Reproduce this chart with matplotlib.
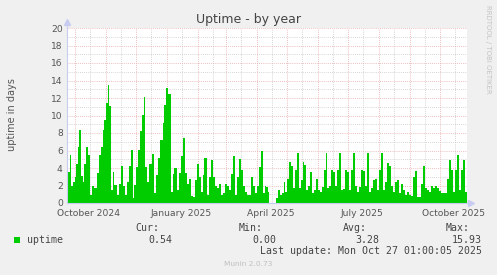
import numpy as np
import matplotlib
matplotlib.use("Agg")
import matplotlib.pyplot as plt
import matplotlib.dates as mdates
from matplotlib.transforms import blended_transform_factory

# ---------------- data ----------------
start_date = np.datetime64('2024-09-23')
end_day = 400
days = [1, 3, 4, 6, 8, 9, 11, 12, 14, 16, 17, 19, 21, 23, 25, 27, 30, 32, 34, 36,
        37, 39, 41, 42, 44, 46, 47, 50, 52, 54, 56, 58, 60, 62, 64, 66, 67, 69, 71, 73,
        75, 77, 78, 80, 82, 85, 87, 89, 91, 93, 96, 97, 99, 101, 104, 106, 107, 110, 112, 114,
        116, 118, 120, 122, 124, 126, 128, 130, 132, 134, 136, 137, 140, 142, 144, 146, 148, 150, 152, 154,
        156, 158, 160, 162, 164, 166, 168, 170, 172, 174, 176, 178, 180, 182, 184, 186, 188, 190, 192, 194,
        196, 198, 199, 201, 202, 209, 211, 213, 215, 217, 218, 220, 222, 224, 226, 228, 230, 232, 234, 236,
        237, 239, 241, 243, 245, 247, 249, 251, 253, 255, 257, 259, 260, 262, 264, 266, 268, 270, 272, 274,
        276, 278, 280, 282, 284, 286, 288, 290, 292, 294, 296, 298, 300, 302, 304, 306, 308, 310, 312, 314,
        316, 318, 320, 322, 324, 326, 328, 330, 332, 334, 336, 338, 340, 342, 344, 346, 348, 350, 352, 354,
        356, 358, 360, 362, 364, 366, 368, 370, 372, 374, 376, 378, 380, 382, 384, 386, 388, 390, 392, 394,
        396, 398]
uptime = [3.5, 5.5, 1.9, 2.4, 3.0, 4.5, 6.4, 8.4, 3.1, 2.4, 4.5, 6.4, 5.5, 0.9, 1.9, 1.7, 3.4, 5.5, 6.4, 8.3,
          9.5, 11.4, 13.5, 11.1, 1.5, 3.6, 2.1, 0.9, 2.2, 4.2, 1.9, 0.9, 2.4, 4.2, 6.1, 0.6, 2.1, 4.1, 6.1, 8.2,
          10.1, 12.1, 4.1, 2.4, 4.5, 5.6, 1.2, 3.2, 5.1, 7.2, 9.1, 11.2, 13.1, 12.5, 1.3, 3.3, 4.0, 1.5, 3.4, 5.4,
          7.4, 3.4, 2.2, 2.7, 0.8, 0.7, 2.6, 4.5, 3.0, 1.3, 3.2, 5.2, 0.9, 3.0, 4.9, 3.0, 1.9, 1.7, 2.2, 0.9,
          1.1, 2.2, 1.9, 1.5, 3.3, 5.4, 0.9, 3.0, 5.0, 3.8, 1.9, 1.3, 0.9, 0.9, 3.0, 1.9, 1.1, 1.9, 4.1, 5.9,
          1.1, 1.9, 1.8, 1.3, 0.0, 0.6, 1.5, 0.9, 1.1, 2.4, 1.3, 2.7, 4.7, 4.2, 1.7, 3.8, 5.7, 1.7, 2.6, 4.7,
          4.3, 1.5, 1.9, 3.6, 1.1, 1.5, 2.7, 1.5, 1.3, 1.8, 3.8, 5.7, 1.7, 1.9, 3.8, 3.6, 1.9, 3.8, 5.7, 1.5,
          1.6, 3.8, 3.6, 1.5, 3.8, 5.7, 1.9, 1.3, 1.8, 3.8, 3.7, 1.9, 5.7, 1.3, 1.7, 2.6, 2.8, 1.5, 3.8, 5.7,
          1.5, 2.4, 4.6, 4.2, 1.9, 1.3, 2.4, 2.6, 1.2, 2.2, 1.5, 0.9, 1.3, 0.9, 0.8, 3.0, 3.7, 0.7, 0.7, 2.2,
          4.2, 1.7, 1.5, 1.3, 1.9, 1.7, 1.9, 1.7, 1.4, 1.2, 1.1, 1.1, 2.8, 4.9, 3.8, 1.3, 3.8, 5.5, 1.5, 3.8,
          4.9, 1.3]
month_ticks = ['2024-10-01', '2024-11-01', '2024-12-01', '2025-01-01', '2025-02-01', '2025-03-01',
               '2025-04-01', '2025-05-01', '2025-06-01', '2025-07-01', '2025-08-01', '2025-09-01',
               '2025-10-01']
mid_ticks = ['2024-09-16', '2024-10-16', '2024-11-16', '2024-12-16', '2025-01-16', '2025-02-16',
             '2025-03-16', '2025-04-16', '2025-05-16', '2025-06-16', '2025-07-16', '2025-08-16',
             '2025-09-16', '2025-10-16']
label_dates = ['2024-10-15', '2025-01-15', '2025-04-15', '2025-07-15', '2025-10-15']
label_texts = ['October 2024', 'January 2025', 'April 2025', 'July 2025', 'October 2025']
y_major = [0, 2, 4, 6, 8, 10, 12, 14, 16, 18, 20]
y_minor = [1, 3, 5, 7, 9, 11, 13, 15, 17, 19]
stats_head = ['Cur:', 'Min:', 'Avg:', 'Max:']
stats_vals = ['0.54', '0.00', '3.28', '15.93']
series_name = 'uptime'
last_update = 'Last update: Mon Oct 27 01:00:05 2025'

# ---------------- figure ----------------
W, H = 497, 275
fig = plt.figure(figsize=(W / 100, H / 100), dpi=100, facecolor='#f0f0f0')
L, R, T, B = 67, 467, 28, 203
ax = fig.add_axes([L / W, 1 - B / H, (R - L) / W, (B - T) / H])
ax.set_facecolor('white')

x = [mdates.date2num(start_date + np.timedelta64(d, 'D')) for d in days]
x.append(mdates.date2num(start_date + np.timedelta64(end_day, 'D')))
y = list(uptime) + [uptime[-1]]
ax.fill_between(x, 0, y, step='post', color='#00cc00', linewidth=0, zorder=3)

ax.set_xlim(mdates.date2num(start_date), mdates.date2num(start_date + np.timedelta64(end_day, 'D')))
ax.set_ylim(0, 20)

# grid
minor_c = '#c8c8c8'
major_c = '#e8a8a8'
for v in y_minor:
    ax.axhline(v, color=minor_c, lw=0.6, ls=(0, (1, 1.5)), zorder=1)
for v in y_major[1:]:
    ax.axhline(v, color=major_c, lw=0.6, ls=(0, (1, 1.5)), zorder=2)
for d in mid_ticks:
    ax.axvline(mdates.date2num(np.datetime64(d)), color=minor_c, lw=0.6, ls=(0, (1, 1.5)), zorder=1)
for d in month_ticks:
    ax.axvline(mdates.date2num(np.datetime64(d)), color=major_c, lw=0.6, ls=(0, (1, 1.5)), zorder=2)

ax.set_yticks(y_major)
ax.set_yticklabels([str(v) for v in y_major])
ax.set_xticks([mdates.date2num(np.datetime64(d)) for d in label_dates])
ax.set_xticklabels(label_texts)
ax.tick_params(axis='both', length=0, labelsize=6.6, colors='#555555', pad=3)
ax.tick_params(axis='x', pad=4)

for s in ['top', 'right']:
    ax.spines[s].set_visible(False)
for s in ['left', 'bottom']:
    ax.spines[s].set_color('#c8ccf0')
    ax.spines[s].set_linewidth(0.8)
    ax.spines[s].set_zorder(4)

# arrows
ax.plot([0], [1.035], marker='^', color='#c8ccf0', markersize=4, transform=ax.transAxes, clip_on=False)
ax.plot([0, 0], [1.0, 1.03], color='#c8ccf0', lw=0.8, transform=ax.transAxes, clip_on=False)
ax.plot([1.0, 1.008], [0, 0], color='#c8ccf0', lw=0.8, transform=ax.transAxes, clip_on=False)
ax.plot([1.01], [0], marker='>', color='#c8ccf0', markersize=4, transform=ax.transAxes, clip_on=False)

# texts
fig.text(248.5 / W, 1 - 19 / H, 'Uptime - by year', ha='center', va='center', fontsize=9, color='#444444')
fig.text(12 / W, 1 - 115 / H, 'uptime in days', rotation=90, ha='center', va='center',
         fontsize=7, color='#555555')
fig.text(488 / W, 1 - 5 / H, 'RRDTOOL / TOBI OETIKER', rotation=270, ha='center', va='top',
         fontsize=5, color='#c4c4c4')

mono = 'DejaVu Sans Mono'
fs = 7.1
head_right = [159, 263, 367, 470]
val_right = [172, 276, 379, 482]
for hx, h in zip(head_right, stats_head):
    fig.text(hx / W, 1 - 228 / H, h, ha='right', va='center', fontsize=fs, family=mono, color='#444444')
for vx, v in zip(val_right, stats_vals):
    fig.text(vx / W, 1 - 240 / H, v, ha='right', va='center', fontsize=fs, family=mono, color='#444444')
fig.patches.append(plt.Rectangle((14 / W, 1 - 243 / H), 6 / W, 6 / H, transform=fig.transFigure,
                                 facecolor='#00cc00', edgecolor='none'))
fig.text(26.5 / W, 1 - 240 / H, series_name, ha='left', va='center', fontsize=fs, family=mono, color='#444444')
fig.text(482 / W, 1 - 251 / H, last_update, ha='right', va='center', fontsize=fs, family=mono, color='#444444')
fig.text(248 / W, 1 - 264 / H, 'Munin 2.0.73', ha='center', va='center', fontsize=5.3, color='#c0c0c0')

fig.savefig('out.png', dpi=100, facecolor=fig.get_facecolor())
